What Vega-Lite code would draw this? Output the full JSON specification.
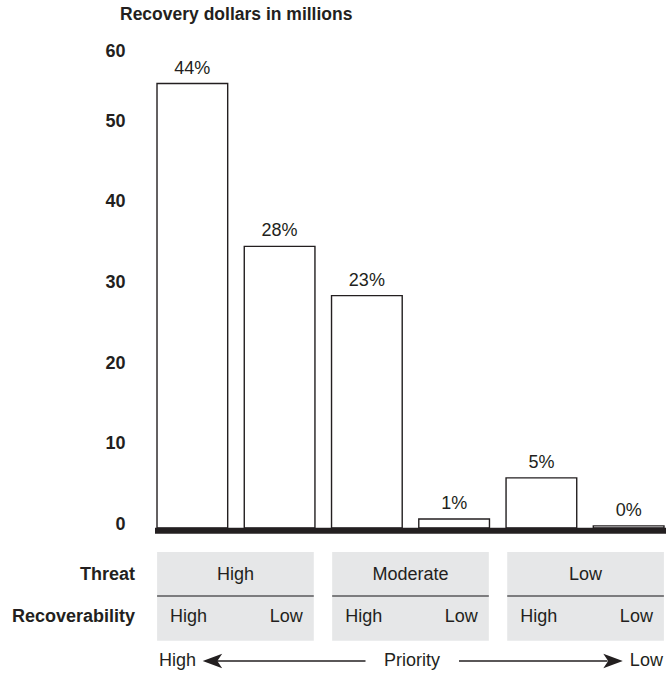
{
  "$schema": "https://vega.github.io/schema/vega-lite/v6.json",
  "width": 511,
  "height": 625,
  "autosize": {"type": "none"},
  "padding": {"left": 155, "top": 44, "right": 0, "bottom": 4},
  "background": "white",
  "config": {"view": {"stroke": null}, "font": "Liberation Sans"},
  "title": {
    "text": "Recovery dollars in millions",
    "anchor": "start",
    "frame": "group",
    "dx": -35,
    "dy": -7,
    "offset": 12,
    "fontSize": 17.5,
    "font": "Liberation Sans",
    "fontWeight": "bold",
    "color": "#231f20"
  },
  "data": {
    "values": [
      {"slot": "High-High", "threat": "High", "rec": "High", "dollars": 55.1, "share": "44%"},
      {"slot": "High-Low", "threat": "High", "rec": "Low", "dollars": 34.9, "share": "28%"},
      {"slot": "Moderate-High", "threat": "Moderate", "rec": "High", "dollars": 28.8, "share": "23%"},
      {"slot": "Moderate-Low", "threat": "Moderate", "rec": "Low", "dollars": 1.1, "share": "1%"},
      {"slot": "Low-High", "threat": "Low", "rec": "High", "dollars": 6.2, "share": "5%"},
      {"slot": "Low-Low", "threat": "Low", "rec": "Low", "dollars": 0.25, "share": "0%"}
    ]
  },
  "resolve": {"scale": {"x": "independent"}},
  "layer": [
    {
      "encoding": {
        "x": {
          "field": "slot",
          "type": "nominal",
          "sort": null,
          "scale": {"paddingInner": 0.19, "paddingOuter": 0.023},
          "axis": null
        }
      },
      "layer": [
        {
          "mark": {"type": "bar", "fill": "white", "stroke": "#231f20", "strokeWidth": 1.4},
          "encoding": {
            "y": {
              "field": "dollars",
              "type": "quantitative",
              "scale": {"domain": [-17.5, 60], "nice": false, "zero": false},
              "axis": {
                "values": [0, 10, 20, 30, 40, 50, 60],
                "title": null,
                "domain": false,
                "ticks": false,
                "grid": false,
                "labelPadding": 30,
                "labelFontSize": 18,
                "labelFontWeight": "bold",
                "labelFont": "Liberation Sans",
                "labelColor": "#231f20",
                "labelBaseline": "middle",
                "labelFlush": false,
                "labelOverlap": false,
                "labelBound": false,
                "labelOffset": {"condition": {"test": "datum.value === 60", "value": 7}, "value": -3.5}
              }
            }
          }
        },
        {
          "mark": {"type": "text", "dy": -10, "baseline": "alphabetic", "fontSize": 18, "font": "Liberation Sans", "color": "#231f20"},
          "encoding": {
            "y": {"field": "dollars", "type": "quantitative"},
            "text": {"field": "share"}
          }
        },
        {
          "transform": [{"filter": "datum.slot === 'High-High'"}],
          "mark": {"type": "rule", "strokeWidth": 6, "color": "#231f20", "yOffset": 3},
          "encoding": {"x": null, "y": {"datum": 0}}
        }
      ]
    },
    {
      "encoding": {
        "x": {
          "field": "threat",
          "type": "nominal",
          "sort": null,
          "scale": {"paddingInner": 0.105, "paddingOuter": 0.012},
          "axis": null
        }
      },
      "layer": [
        {
          "transform": [{"filter": "datum.rec === 'High'"}],
          "mark": {"type": "rect", "fill": "#e6e7e8"},
          "encoding": {"y": {"datum": -3.0}, "y2": {"datum": -14.0}}
        },
        {
          "transform": [{"filter": "datum.rec === 'High'"}],
          "mark": {"type": "rect", "fill": "#58595b"},
          "encoding": {"y": {"datum": -8.35}, "y2": {"datum": -8.55}}
        },
        {
          "transform": [{"filter": "datum.rec === 'High'"}],
          "mark": {"type": "text", "baseline": "middle", "fontSize": 18, "color": "#231f20"},
          "encoding": {"y": {"datum": -5.83}, "text": {"field": "threat"}}
        },
        {
          "transform": [{"filter": "datum.rec === 'High'"}],
          "mark": {"type": "text", "baseline": "middle", "align": "left", "dx": 13, "fontSize": 18, "color": "#231f20"},
          "encoding": {
            "x": {"field": "threat", "type": "nominal", "sort": null, "bandPosition": 0},
            "y": {"datum": -11.04},
            "text": {"field": "rec"}
          }
        },
        {
          "transform": [{"filter": "datum.rec === 'Low'"}],
          "mark": {"type": "text", "baseline": "middle", "align": "right", "dx": -11, "fontSize": 18, "color": "#231f20"},
          "encoding": {
            "x": {"field": "threat", "type": "nominal", "sort": null, "bandPosition": 1},
            "y": {"datum": -11.04},
            "text": {"field": "rec"}
          }
        },
        {
          "transform": [{"filter": "datum.slot === 'High-High'"}],
          "mark": {"type": "text", "baseline": "middle", "align": "right", "dx": -22, "fontSize": 18, "fontWeight": "bold", "color": "#231f20"},
          "encoding": {
            "x": {"datum": "High", "bandPosition": 0},
            "y": {"datum": -5.83},
            "text": {"value": "Threat"}
          }
        },
        {
          "transform": [{"filter": "datum.slot === 'High-High'"}],
          "mark": {"type": "text", "baseline": "middle", "align": "right", "dx": -22, "fontSize": 18, "fontWeight": "bold", "color": "#231f20"},
          "encoding": {
            "x": {"datum": "High", "bandPosition": 0},
            "y": {"datum": -11.04},
            "text": {"value": "Recoverability"}
          }
        },
        {
          "transform": [{"filter": "datum.slot === 'High-High'"}],
          "mark": {"type": "text", "baseline": "middle", "align": "left", "dx": 2, "fontSize": 18, "color": "#231f20"},
          "encoding": {
            "x": {"datum": "High", "bandPosition": 0},
            "y": {"datum": -16.5},
            "text": {"value": "High"}
          }
        },
        {
          "transform": [{"filter": "datum.slot === 'High-High'"}],
          "mark": {"type": "rule", "strokeWidth": 1.5, "color": "#231f20", "xOffset": -25, "x2Offset": -45},
          "encoding": {
            "x": {"datum": "High"},
            "x2": {"datum": "Moderate"},
            "y": {"datum": -16.5}
          }
        },
        {
          "transform": [{"filter": "datum.slot === 'High-High'"}],
          "mark": {"type": "point", "filled": true, "opacity": 1, "color": "#231f20", "strokeWidth": 0, "size": 380, "shape": "M-1,0L1,-0.75L0.5,0L1,0.75Z", "xOffset": -23},
          "encoding": {
            "x": {"datum": "High"},
            "y": {"datum": -16.5}
          }
        },
        {
          "transform": [{"filter": "datum.slot === 'High-High'"}],
          "mark": {"type": "text", "baseline": "middle", "align": "center", "dx": 1.5, "fontSize": 18, "color": "#231f20"},
          "encoding": {
            "x": {"datum": "Moderate"},
            "y": {"datum": -16.5},
            "text": {"value": "Priority"}
          }
        },
        {
          "transform": [{"filter": "datum.slot === 'High-High'"}],
          "mark": {"type": "rule", "strokeWidth": 1.5, "color": "#231f20", "xOffset": 48.5, "x2Offset": 22},
          "encoding": {
            "x": {"datum": "Moderate"},
            "x2": {"datum": "Low"},
            "y": {"datum": -16.5}
          }
        },
        {
          "transform": [{"filter": "datum.slot === 'High-High'"}],
          "mark": {"type": "point", "filled": true, "opacity": 1, "color": "#231f20", "strokeWidth": 0, "size": 380, "shape": "M1,0L-1,-0.75L-0.5,0L-1,0.75Z", "xOffset": 27.5},
          "encoding": {
            "x": {"datum": "Low"},
            "y": {"datum": -16.5}
          }
        },
        {
          "transform": [{"filter": "datum.slot === 'High-High'"}],
          "mark": {"type": "text", "baseline": "middle", "align": "right", "dx": -1, "fontSize": 18, "color": "#231f20"},
          "encoding": {
            "x": {"datum": "Low", "bandPosition": 1},
            "y": {"datum": -16.5},
            "text": {"value": "Low"}
          }
        }
      ]
    }
  ]
}
